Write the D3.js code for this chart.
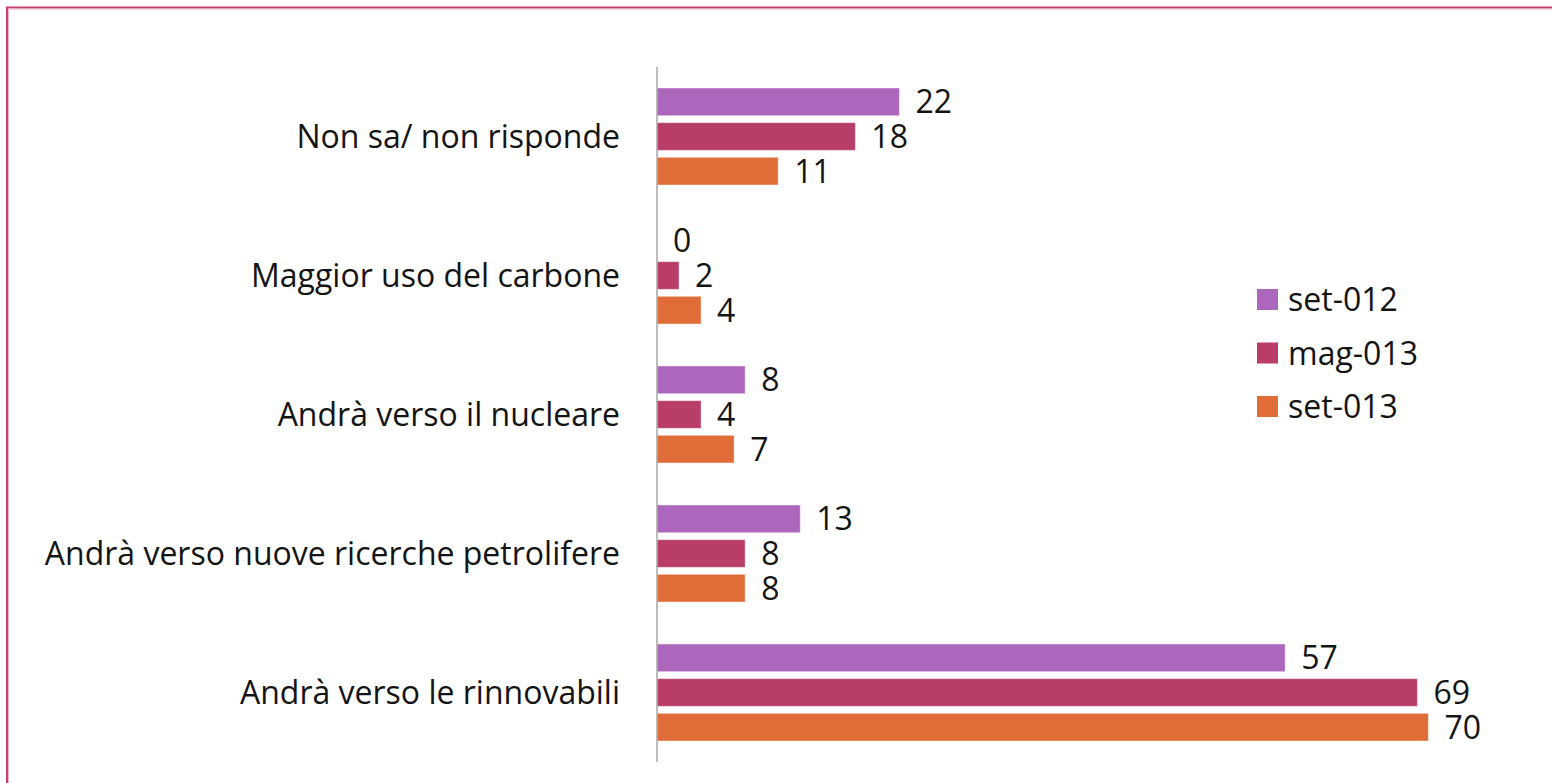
<!DOCTYPE html>
<html>
<head>
<meta charset="utf-8">
<script src="https://cdn.jsdelivr.net/npm/d3@7"></script>
<style>
  html, body { margin: 0; padding: 0; background: #ffffff; }
  svg { display: block; }
  text { font-family: "Open Sans", Lato, sans-serif; fill: #141414; }
</style>
</head>
<body>
<svg id="chart" width="1552" height="783"></svg>
<script>
// ---- data ----
const categories = [
  "Non sa/ non risponde",
  "Maggior uso del carbone",
  "Andrà verso il nucleare",
  "Andrà verso nuove ricerche petrolifere",
  "Andrà verso le rinnovabili"
];
const seriesNames = ["set-012", "mag-013", "set-013"];
const set012 = [22, 0, 8, 13, 57];
const mag013 = [18, 2, 4, 8, 69];
const set013 = [11, 4, 7, 8, 70];
const seriesColors = ["#AC66BB", "#B83D68", "#E06C37"];
const seriesValues = [set012, mag013, set013];

// ---- layout ----
const svg = d3.select("#chart");
const W = 1552, H = 783;
const plot = { left: 657, right: 1538.6, top: 67, bottom: 762 };
const fontSize = 32;
const fontFamily = "'Open Sans', Lato, sans-serif";

// frame
svg.append("rect")
  .attr("x", 7).attr("y", 7.5)
  .attr("width", W + 20).attr("height", H + 20)
  .attr("fill", "none").attr("stroke", "#C8416F").attr("stroke-width", 2);
svg.append("rect")
  .attr("x", 8.5).attr("y", 9)
  .attr("width", W + 20).attr("height", H + 20)
  .attr("fill", "none").attr("stroke", "#EEB4C6").attr("stroke-width", 1);

const x = d3.scaleLinear().domain([0, 80]).range([plot.left, plot.right]);
const y = d3.scaleBand().domain(categories).range([plot.top, plot.bottom])
  .paddingInner(0.302).paddingOuter(0.151);
const ySub = d3.scaleBand().domain(seriesNames).range([0, y.bandwidth()])
  .paddingInner(0.2).paddingOuter(0);

const rows = [];
categories.forEach((c, i) => {
  seriesNames.forEach((s, j) => {
    rows.push({ cat: c, series: s, value: seriesValues[j][i], color: seriesColors[j] });
  });
});

const g = svg.append("g");
g.selectAll("rect.bar").data(rows).join("rect")
  .attr("class", "bar")
  .attr("x", x(0))
  .attr("y", d => y(d.cat) + ySub(d.series))
  .attr("width", d => x(d.value) - x(0))
  .attr("height", ySub.bandwidth())
  .attr("fill", d => d.color)
  .attr("stroke", d => d.value > 0 ? "rgba(255,255,255,0.45)" : "none")
  .attr("stroke-width", 1);

g.selectAll("text.val").data(rows).join("text")
  .attr("class", "val")
  .attr("x", d => x(d.value) + 16)
  .attr("y", d => y(d.cat) + ySub(d.series) + ySub.bandwidth() / 2)
  .attr("dy", "0.36em")
  .attr("font-size", fontSize)
  .text(d => d.value);

// category axis
const yAxis = d3.axisLeft(y).tickSize(0).tickPadding(37);
const ax = svg.append("g").attr("transform", `translate(${plot.left},0)`).call(yAxis);
ax.select(".domain").attr("stroke", "#A6A6A6").attr("stroke-width", 1.5)
  .attr("d", `M0,${plot.top}V${plot.bottom}`);
ax.selectAll(".tick text")
  .attr("font-size", fontSize)
  .attr("font-family", fontFamily)
  .attr("fill", "#141414")
  .attr("dy", "0.36em");

// legend
const legend = svg.append("g").attr("transform", "translate(1257,289)");
const lg = legend.selectAll("g").data(seriesNames).join("g")
  .attr("transform", (d, i) => `translate(0,${i * 53.5})`);
lg.append("rect").attr("width", 21).attr("height", 21)
  .attr("fill", (d, i) => seriesColors[i]);
lg.append("text").attr("x", 31).attr("y", 10.5).attr("dy", "0.36em")
  .attr("font-size", fontSize).text(d => d);
</script>
</body>
</html>
